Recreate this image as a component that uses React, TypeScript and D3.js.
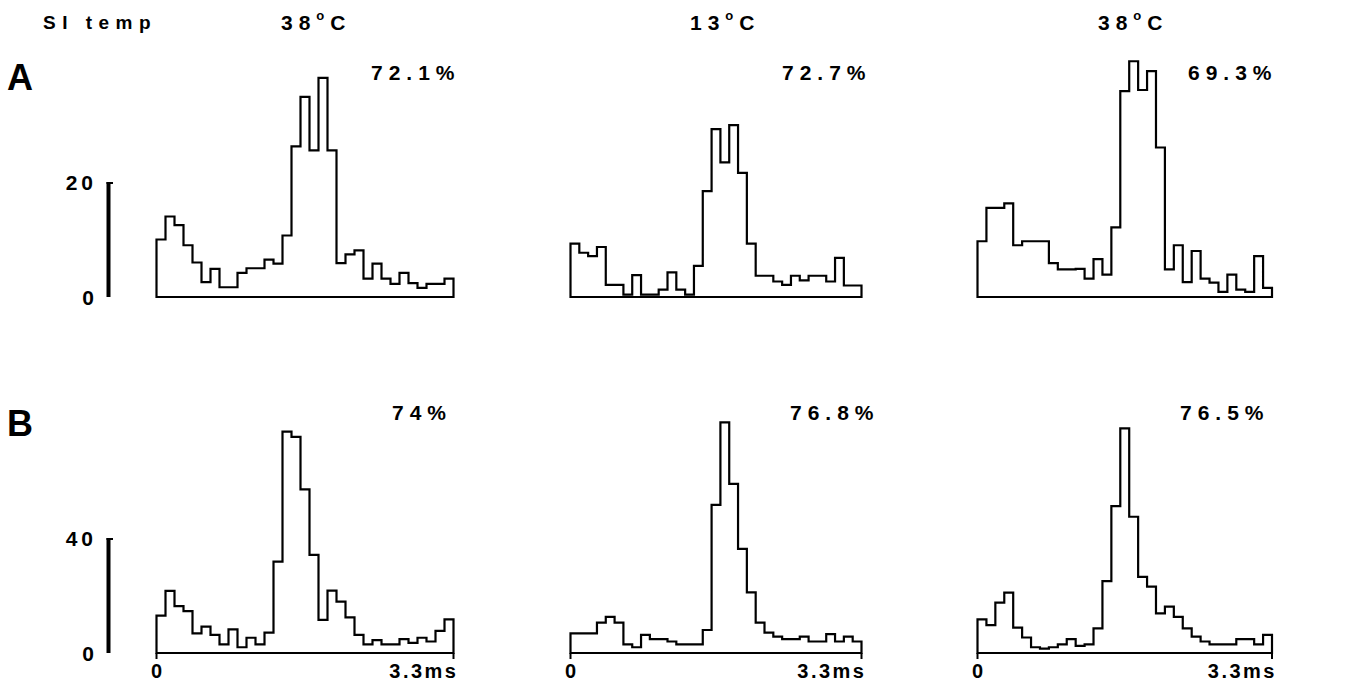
import React from 'react';
import * as d3 from 'd3';

// ---- data ----
const BIN_MS = 0.1;
const X_MAX_MS = 3.3;
const headerLabel = 'SI temp';
const columnTemps = ['38', '13', '38'];
const rowLetters = ['A', 'B'];
const percentsA = ['72.1%', '72.7%', '69.3%'];
const percentsB = ['74%', '76.8%', '76.5%'];
const scaleBarValues = [20, 40];
const xTickLabels = ['0', '3.3ms'];

const countsA1 = [10, 14, 12.5, 9, 6, 2.6, 4.9, 1.7, 1.7, 4.2, 5, 5, 6.5, 5.8, 10.7, 26.2, 34.8, 25.5, 38.1, 25.5, 5.9, 7.4, 8.1, 3.2, 5.8, 3.2, 2.3, 4.2, 2.4, 1.6, 2.3, 2.3, 3.2];
const countsA2 = [9.3, 7.7, 7.1, 8.7, 2.1, 2.1, 0.4, 3.8, 0.4, 0.4, 1.3, 4.3, 1.3, 0.4, 5.4, 18.4, 29.2, 23.4, 29.9, 21.6, 9.3, 3.7, 3.7, 2.7, 2.1, 3.7, 2.9, 3.7, 3.7, 2.7, 6.8, 2.0, 2.0];
const countsA3 = [9.7, 15.5, 15.5, 16.3, 9.0, 9.7, 9.7, 9.7, 5.9, 4.8, 4.8, 4.9, 3.2, 6.6, 3.9, 12.1, 35.8, 41, 36, 39.3, 26, 4.8, 9.0, 2.6, 8.0, 3.2, 2.5, 0.9, 3.9, 1.3, 0.9, 7.1, 1.6];
const countsB1 = [13, 21.6, 16.3, 14.6, 6.8, 9.2, 6.3, 3, 8.2, 2, 5.3, 3, 7.1, 31.8, 77, 75.2, 56.9, 34.1, 11.5, 21.7, 17.9, 12.4, 6.3, 3, 4.5, 3, 3, 4.8, 3.5, 5.3, 4, 7.7, 11.7];
const countsB2 = [6.8, 6.8, 6.8, 10.6, 12.6, 10.6, 3, 2, 6.3, 4.8, 4.8, 4, 3, 3, 3, 8, 51.5, 80.2, 58.8, 36.2, 21.1, 10.6, 7.1, 5.7, 4.8, 4.8, 5.7, 4, 4, 6.6, 4, 5.7, 4];
const countsB3 = [11.7, 9.7, 17.5, 21, 8.8, 5.4, 2, 1.5, 2, 3, 4.8, 2.5, 3, 8.6, 25, 51.1, 78.1, 47.4, 26.5, 23.1, 13.8, 16.1, 12.6, 8.6, 5.7, 4, 3, 3, 3, 4.8, 4.8, 3, 6.3];

const rowsData = [
  [countsA1, countsA2, countsA3],
  [countsB1, countsB2, countsB3],
];
const rowsPercents = [percentsA, percentsB];

// ---- layout ----
const W = 1356;
const H = 686;
const COLS = [
  [156.5, 453.5],
  [570.5, 861.5],
  [977.5, 1272],
];
const ROWS = [
  { base: 297, top: 182, letterY: 90, pctY: 80, pctX: [371, 782, 1188] },
  { base: 653, top: 538, letterY: 436, pctY: 420, pctX: [392, 790, 1180] },
];
const FONT = '"Liberation Sans", Arial, Helvetica, sans-serif';

function Histogram({ counts, x0, x1, base, top, maxVal }: any) {
  const x = d3.scaleLinear().domain([0, X_MAX_MS]).range([x0, x1]);
  const y = d3.scaleLinear().domain([0, maxVal]).range([base, top]);
  const pts: [number, number][] = [[0, 0]];
  counts.forEach((v: number, i: number) => pts.push([i * BIN_MS, v]));
  pts.push([X_MAX_MS, counts[counts.length - 1]]);
  pts.push([X_MAX_MS, 0]);
  const line = d3
    .line<[number, number]>()
    .x((d) => x(d[0]))
    .y((d) => y(d[1]))
    .curve(d3.curveStepAfter);
  return (
    <path
      d={(line(pts) || '') + 'Z'}
      fill="none"
      stroke="#000"
      strokeWidth={2.2}
      strokeLinejoin="miter"
    />
  );
}

export default function App() {
  return (
    <svg
      width={W}
      height={H}
      style={{ position: 'absolute', left: 0, top: 0, background: '#fff' }}
      fontFamily={FONT}
      fontWeight="bold"
    >
      <rect x={0} y={0} width={W} height={H} fill="#fff" />
      {/* header */}
      <text x={43} y={29} fontSize={19} letterSpacing={6.5}>
        {headerLabel}
      </text>
      {columnTemps.map((t, i) => (
        <text key={i} x={[281, 690, 1098][i]} y={30} fontSize={21} letterSpacing={6}>
          {t}
          <tspan dy={-10} fontSize={13}>o</tspan>
          <tspan dy={10}>C</tspan>
        </text>
      ))}
      {ROWS.map((r, ri) => {
        const maxVal = scaleBarValues[ri];
        const y = d3.scaleLinear().domain([0, maxVal]).range([r.base, r.top]);
        return (
          <g key={ri}>
            <text x={7} y={r.letterY} fontSize={36}>
              {rowLetters[ri]}
            </text>
            {/* scale bar */}
            <line x1={108.5} x2={108.5} y1={y(maxVal)} y2={y(0)} stroke="#000" strokeWidth={4} />
            <line x1={106.5} x2={113} y1={y(maxVal) + 1} y2={y(maxVal) + 1} stroke="#000" strokeWidth={2} />
            <text x={97} y={y(maxVal) + 8} fontSize={21} letterSpacing={4} textAnchor="end">
              {String(maxVal)}
            </text>
            <text x={94} y={y(0) + 8} fontSize={21} textAnchor="end">
              0
            </text>
            {rowsData[ri].map((counts, ci) => (
              <g key={ci}>
                <Histogram
                  counts={counts}
                  x0={COLS[ci][0]}
                  x1={COLS[ci][1]}
                  base={r.base}
                  top={r.top}
                  maxVal={maxVal}
                />
                <text x={r.pctX[ci]} y={r.pctY} fontSize={21} letterSpacing={6}>
                  {rowsPercents[ri][ci]}
                </text>
              </g>
            ))}
          </g>
        );
      })}
      {/* x-axis ticks and labels under bottom row */}
      {COLS.map((c, ci) => {
        const x = d3.scaleLinear().domain([0, X_MAX_MS]).range(c);
        const base = ROWS[1].base;
        return (
          <g key={ci}>
            <line x1={x(0)} x2={x(0)} y1={base} y2={base + 6} stroke="#000" strokeWidth={2} />
            <line x1={x(X_MAX_MS)} x2={x(X_MAX_MS)} y1={base} y2={base + 6} stroke="#000" strokeWidth={2} />
            <text x={x(0)} y={base + 25} fontSize={20} textAnchor="middle">
              {xTickLabels[0]}
            </text>
            <text x={x(X_MAX_MS) + 5} y={base + 25} fontSize={20} letterSpacing={2.5} textAnchor="end">
              {xTickLabels[1]}
            </text>
          </g>
        );
      })}
    </svg>
  );
}
